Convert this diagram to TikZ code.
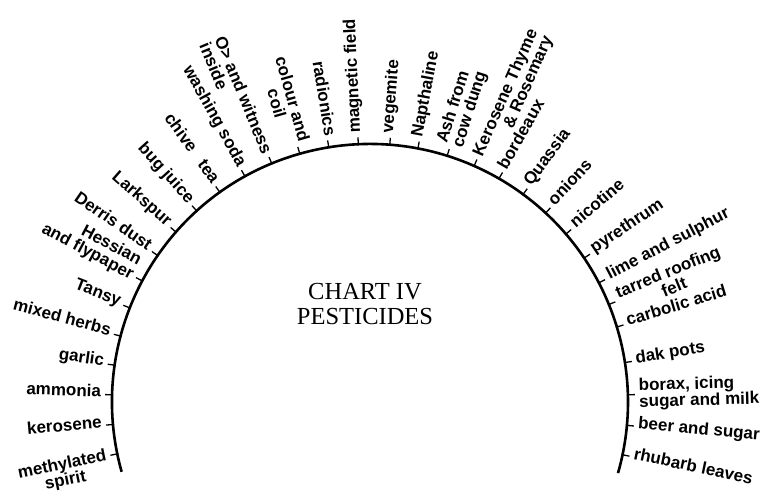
\documentclass[tikz,border=0pt]{standalone}
\usepackage{fontspec}
\setmainfont{Liberation Serif}
\newfontfamily\labelfont{Liberation Sans}
\begin{document}
\begin{tikzpicture}[x=1pt,y=1pt,
  lab/.style={font=\labelfont\bfseries\fontsize{17}{16.5}\selectfont, inner sep=3pt},
  outlab/.style={lab, anchor=mid west, rotate=#1},
  inlab/.style={lab, anchor=mid east, rotate=#1-180},
  outblock/.style={lab, anchor=west, rotate=#1},
  inblock/.style={lab, anchor=east, rotate=#1-180},
  tickmark/.style={line width=1.3pt}]
  \useasboundingbox (0,0) rectangle (768,502);
  \coordinate (c) at (370,100);
  % the half circle
  \draw[line width=2.6pt] ([shift={(195.7:258)}]c) arc[start angle=195.7, end angle=-16, radius=258];
  % ticks
  \foreach \a in {191.6,185,178.4,171.8,165.2,158.6,152,145.4,138.8,132.2,125.6,119,112.4,105.8,99.2,92.6,
                  85.6,79.3,72.6,66.2,60,53.6,47.1,40.6,33.9,27.5,22.2,16.9,8.8,1.6,-5.2,-11.8}
    \draw[tickmark] ([shift={(\a:257)}]c) -- ([shift={(\a:265)}]c);
  % labels reading outwards
  \foreach \a/\t [count=\i] in {92.6/magnetic field, 85.6/vegemite, 79.3/Napthaline, 60/bordeaux,
      53.6/Quassia, 47.1/onions, 40.6/nicotine, 33.9/pyrethrum, 27.5/lime and sulphur,
      16.9/carbolic acid, 8.8/dak pots, -5.2/beer and sugar, -11.8/rhubarb leaves}
    \node[outlab=\a] (out\i) at ([shift={(\a:266)}]c) {\t};
  % labels reading inwards
  \foreach \a/\t [count=\i] in {99.2/radionics, 119/washing soda, 125.6/{chive\hspace{0.8em}tea},
      132.2/bug juice, 138.8/Larkspur, 145.4/Derris dust, 158.6/Tansy, 165.2/mixed herbs,
      171.8/garlic, 178.4/ammonia, 185/kerosene}
    \node[inlab=\a] (in\i) at ([shift={(\a:266)}]c) {\t};
  % two-line labels
  \node[outblock=72.6, align=left] (ash) at ([shift={(72.6:266)}]c) {Ash from\\cow dung};
  \node[outblock=66.2, align=right, yshift=-8pt] (thyme) at ([shift={(66.2:266)}]c) {Kerosene Thyme\\\& Rosemary};
  \node[outblock=22.2, align=center] (felt) at ([shift={(22.2:266)}]c) {tarred roofing\\felt};
  \node[outblock=1.6, align=left] (borax) at ([shift={(1.6:266)}]c) {borax, icing\\sugar and milk};
  \node[inblock=105.8, align=center] (coil) at ([shift={(105.8:266)}]c) {colour and\\coil};
  \node[inblock=112.4, align=left, yshift=-8pt] (witness) at ([shift={(112.4:266)}]c) {O> and witness\\inside};
  \node[inblock=152, align=right, yshift=8pt] (hessian) at ([shift={(152:266)}]c) {Hessian\\and flypaper};
  \node[inblock=191.6, align=center, yshift=-8pt] (spirit) at ([shift={(191.6:266)}]c) {methylated\\spirit};
  % title
  \node[font=\fontsize{24.5}{25}\selectfont, align=center] (title) at (365,197.6) {CHART IV\\PESTICIDES};
\end{tikzpicture}
\end{document}
